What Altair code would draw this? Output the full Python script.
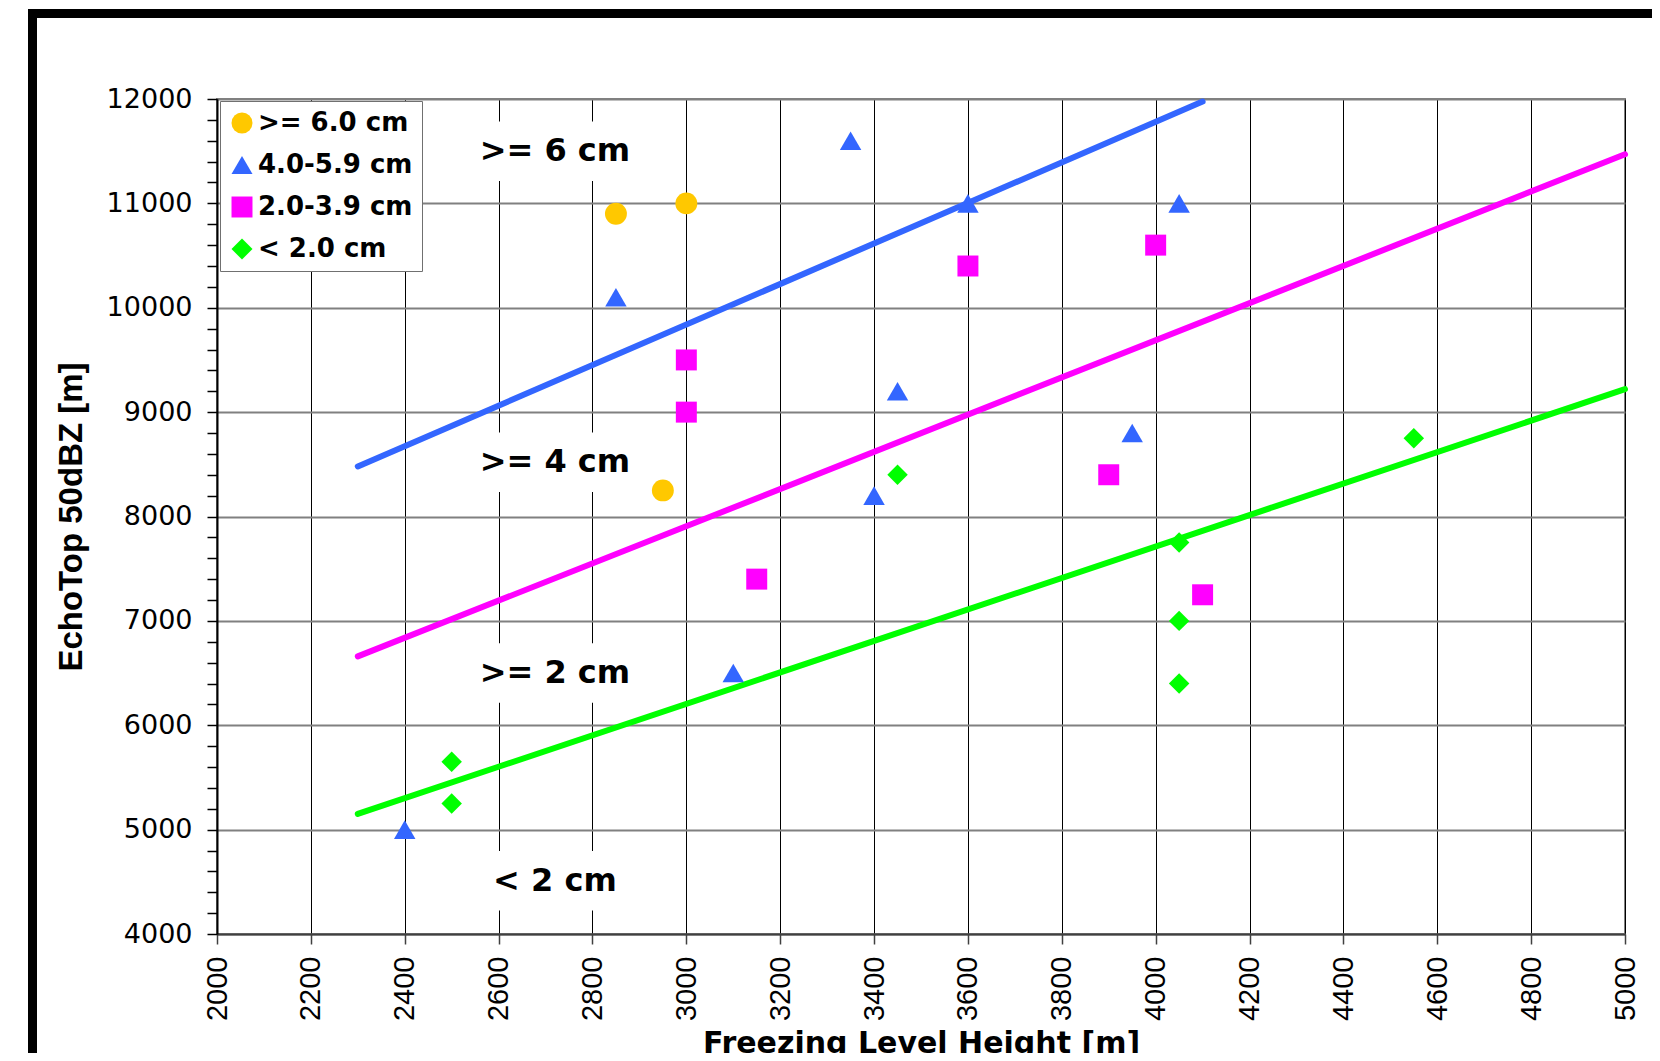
import altair as alt
import pandas as pd

# ---------------- data ----------------
classes = [">= 6.0 cm", "4.0-5.9 cm", "2.0-3.9 cm", "< 2.0 cm"]
class_colors = ["#FFC800", "#3366FF", "#FF00FF", "#00FF00"]
class_shapes = ["circle", "triangle-up", "square", "diamond"]
class_sizes = [480, 420, 300, 400]

big6_x = [2850, 3000, 2950]
big6_y = [10900, 11000, 8250]
hail4_x = [3350, 3600, 4050, 2850, 3450, 3950, 3400, 3100, 2400]
hail4_y = [11600, 11000, 11000, 10100, 9200, 8800, 8200, 6500, 5000]
hail2_x = [3600, 4000, 3000, 3000, 3900, 3150, 4100]
hail2_y = [10400, 10600, 9500, 9000, 8400, 7400, 7250]
small_x = [2500, 2500, 3450, 4050, 4050, 4050, 4550]
small_y = [5650, 5250, 8400, 7750, 7000, 6400, 8750]

fit_class = ["4.0-5.9 cm", "2.0-3.9 cm", "< 2.0 cm"]
fit_x0 = [2300, 2300, 2300]
fit_y0 = [8480, 6660, 5150]
fit_x1 = [4100, 5000, 5000]
fit_y1 = [11975, 11470, 9220]

ann_text = [">= 6 cm", ">= 4 cm", ">= 2 cm", "< 2 cm"]
ann_x = [2720, 2720, 2720, 2720]
ann_y = [11500, 8520, 6500, 4510]

x_ticks = [2000, 2200, 2400, 2600, 2800, 3000, 3200, 3400, 3600, 3800,
           4000, 4200, 4400, 4600, 4800, 5000]
y_ticks = [4000, 4200, 4400, 4600, 4800, 5000, 5200, 5400, 5600, 5800,
           6000, 6200, 6400, 6600, 6800, 7000, 7200, 7400, 7600, 7800,
           8000, 8200, 8400, 8600, 8800, 9000, 9200, 9400, 9600, 9800,
           10000, 10200, 10400, 10600, 10800, 11000, 11200, 11400, 11600,
           11800, 12000]

# ---------------- tables ----------------
rows = []
for cls, xs, ys in [(classes[0], big6_x, big6_y), (classes[1], hail4_x, hail4_y),
                    (classes[2], hail2_x, hail2_y), (classes[3], small_x, small_y)]:
    for xv, yv in zip(xs, ys):
        rows.append({"x": xv, "y": yv, "cls": cls})
pts = pd.DataFrame(rows)

lrows = []
for c, a, b, p, q in zip(fit_class, fit_x0, fit_y0, fit_x1, fit_y1):
    lrows.append({"x": a, "y": b, "fit": c})
    lrows.append({"x": p, "y": q, "fit": c})
fits = pd.DataFrame(lrows)

ann = pd.DataFrame({"x": ann_x, "y": ann_y, "t": ann_text})

# ---------------- scales / axes ----------------
xscale = alt.Scale(domain=[2000, 5000], nice=False, zero=False)
yscale = alt.Scale(domain=[4000, 12000], nice=False, zero=False)

x_axis = alt.Axis(values=x_ticks, format="d", labelAngle=270,
                  labelFont="Liberation Sans", labelFontSize=29, labelColor="black",
                  labelPadding=12, labelOverlap=False, labelFlush=False,
                  tickSize=10, tickColor="#404040", tickWidth=1.5,
                  domainColor="#404040", domainWidth=2,
                  grid=True, gridColor="black", gridWidth=1,
                  title="Freezing Level Height [m]", titleFont="DejaVu Sans",
                  titleFontSize=30, titleFontWeight="bold", titleColor="black",
                  titlePadding=8)
y_axis = alt.Axis(values=y_ticks, format="d",
                  labelExpr="datum.value % 1000 === 0 ? datum.label : ''",
                  labelFont="DejaVu Sans", labelFontSize=27, labelColor="black",
                  labelPadding=15, labelOverlap=False, labelFlush=False,
                  tickSize=10, tickColor="black", tickWidth=1.5,
                  domainColor="black", domainWidth=2,
                  grid=True, gridColor="#808080", gridWidth=2,
                  gridOpacity={"condition": {"test": "datum.value % 1000 !== 0", "value": 0}, "value": 1},
                  title="EchoTop 50dBZ [m]", titleFont="Liberation Sans",
                  titleFontSize=33, titleFontWeight="bold", titleColor="black",
                  titlePadding=18)

X = alt.X("x:Q", scale=xscale, axis=x_axis)
Y = alt.Y("y:Q", scale=yscale, axis=y_axis)

legend = alt.Legend(title=None, orient="none", legendX=3, legendY=2,
                    fillColor="white", strokeColor="#707070",
                    padding=9, rowPadding=16, labelOffset=3,
                    labelFont="DejaVu Sans", labelFontSize=26, labelFontWeight="bold",
                    labelColor="black", symbolSize=440, symbolStrokeWidth=0,
                    symbolOpacity=1)

# ---------------- layers ----------------
frame = alt.Chart(alt.Data(values=[{}])).mark_rule(color="black", strokeWidth=9, strokeCap="butt")
frame_v = frame.encode(x=alt.value(-184.5), y=alt.value(-90), y2=alt.value(960))
frame_h = frame.encode(x=alt.value(-189), x2=alt.value(1440), y=alt.value(-85.5))

boxes = alt.Chart(ann).mark_point(
    shape="M-1,-0.33H1V0.33H-1Z", filled=True, color="white", opacity=1,
    strokeWidth=0, size=32400
).encode(x=X, y=Y)

lines = alt.Chart(fits).mark_line(strokeWidth=6, strokeCap="round").encode(
    x=X, y=Y,
    stroke=alt.Stroke("fit:N", scale=alt.Scale(domain=classes, range=class_colors), legend=None),
)

points = alt.Chart(pts).mark_point(filled=True, opacity=1, strokeWidth=0).encode(
    x=X, y=Y,
    color=alt.Color("cls:N", scale=alt.Scale(domain=classes, range=class_colors), legend=legend),
    shape=alt.Shape("cls:N", scale=alt.Scale(domain=classes, range=class_shapes), legend=legend),
    size=alt.Size("cls:N", scale=alt.Scale(domain=classes, range=class_sizes), legend=None),
)

labels = alt.Chart(ann).mark_text(
    font="DejaVu Sans", fontSize=32, fontWeight="bold", color="black",
    align="center", baseline="middle"
).encode(x=X, y=Y, text="t:N")

chart = alt.layer(frame_v, frame_h, boxes, lines, points, labels).properties(
    width=1408, height=835,
    autosize=alt.AutoSizeParams(type="none"),
    padding={"left": 209, "top": 91, "right": 27, "bottom": 119},
    background="white",
).resolve_scale(color="independent", shape="independent").configure_view(
    stroke="#808080", strokeWidth=2)

chart.save("out.html", embed_options={"renderer": "svg", "actions": False})
